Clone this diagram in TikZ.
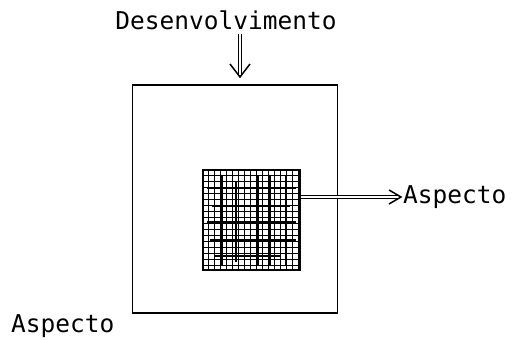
\documentclass[tikz,border=0pt]{standalone}
\usepackage{fontspec}
\setmonofont{DejaVu Sans Mono}
\begin{document}
\begin{tikzpicture}[x=1pt,y=-1pt,
  lbl/.style={font=\ttfamily\fontsize{24.5}{24.5}\selectfont, inner sep=0pt},
  boxline/.style={draw, line width=1.4pt},
  dbl/.style={double, double distance=1.4pt, line width=0.9pt},
  openhead/.style={line width=1.5pt}]
\useasboundingbox (0,0) rectangle (517,340);
% labels
\node[lbl] (dev) at (226,20) {Desenvolvimento};
\node[lbl, anchor=west] (asp1) at (403,197) {Aspecto};
\node[lbl, anchor=west] (asp2) at (11,326) {Aspecto};
% big box
\node[boxline, minimum width=205pt, minimum height=228pt, inner sep=0pt] (big) at (235,199) {};
% inner square with grid
\node[boxline, minimum width=97pt, minimum height=100pt, inner sep=0pt] (core) at (251.5,220) {};
\begin{scope}
\clip (core.north west) rectangle (core.south east);
\foreach \i in {0,...,16} {
  \draw[line width=0.45pt] ([xshift=\i*6pt]core.north west) -- ([xshift=\i*6pt]core.south west);
  \draw[line width=0.45pt] ([yshift=-\i*6pt]core.north west) -- ([yshift=-\i*6pt]core.north east);
}
\foreach \xx/\ya/\yb in {222/176/266, 236/182/262, 258/176/266, 270/176/266, 286/176/266} {
  \draw[line width=1.2pt] (\xx,\ya) -- (\xx,\yb);
}
\foreach \yy/\xa/\xb in {188/207/296, 206/212/290, 222/207/296, 240/210/296, 256/214/280} {
  \draw[line width=1.2pt] (\xa,\yy) -- (\xb,\yy);
}
\end{scope}
% down arrow
\coordinate (dtop) at (240,34);
\coordinate (dtip) at (240,77);
\draw[dbl] (dtop) -- ([yshift=3pt]dtip);
\draw[openhead] (230,64) -- (dtip) -- (250,64);
% right arrow
\coordinate (rtip) at (401,197);
\draw[dbl] (core.east |- rtip) -- ([xshift=-3pt]rtip);
\draw[openhead] (389,190) -- (rtip) -- (389,204);
\end{tikzpicture}
\end{document}
